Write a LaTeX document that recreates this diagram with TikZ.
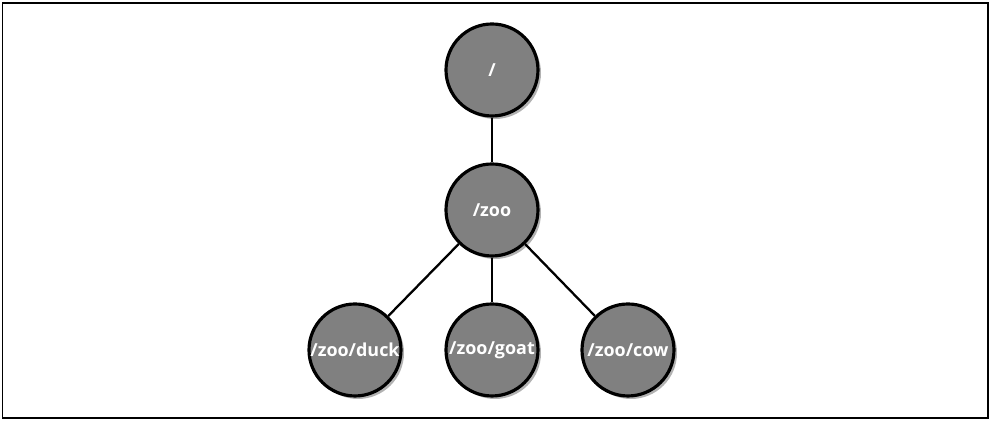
\documentclass[tikz,border=0pt]{standalone}
\usepackage{fontspec}
\setsansfont{Open Sans}
\usetikzlibrary{positioning,shadows}
\definecolor{znodegray}{RGB}{128, 128, 128}
\newcommand{\ztext}[1]{\makebox[0pt]{#1}}

\begin{document}
\begin{tikzpicture}[
    znode/.style={draw, circle, line width=1.8pt, fill=znodegray, minimum size=1.84cm, inner sep=0pt,
        text=white, font=\sffamily\bfseries\fontsize{10.2}{12}\selectfont, drop shadow={shadow xshift=0.06cm, shadow yshift=-0.06cm, fill=black!60}},
    zedge/.style={line width=1.3pt}
]
    \draw[line width=0.8pt] (0.05,0.08) rectangle (19.76,8.38);
    \useasboundingbox (0,0) rectangle (19.82,8.44);

    \node[znode] (root) at (9.84,7.04) {\ztext{/}};
    \node[znode] (zoo) at (9.84,4.24) {\ztext{/zoo}};
    \node[znode] (duck) at (7.1,1.44) {\ztext{/zoo/duck}};
    \node[znode] (goat) at (9.84,1.44) {\ztext{/zoo/goat}};
    \node[znode] (cow) at (12.56,1.44) {\ztext{/zoo/cow}};

    \draw[zedge] (root) -- (zoo);
    \draw[zedge] (zoo) -- (duck);
    \draw[zedge] (zoo) -- (goat);
    \draw[zedge] (zoo) -- (cow);
\end{tikzpicture}
\end{document}
